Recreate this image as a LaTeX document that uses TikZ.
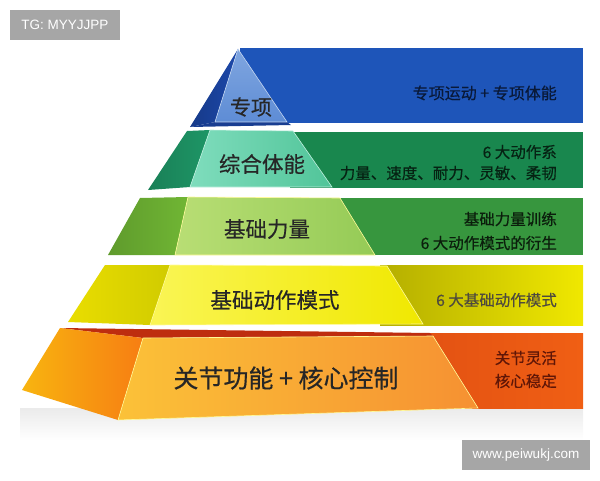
\documentclass[tikz,border=0pt]{standalone}
\usepackage{fontspec}
\setmainfont{Liberation Sans}
\newfontfamily\cjk[FakeBold=0.4]{Noto Sans CJK SC}

\definecolor{onebar}{RGB}{30,85,185}
\definecolor{onefront}{RGB}{105,150,218}
\definecolor{oneside}{RGB}{28,72,170}
\definecolor{twobar}{RGB}{25,135,78}
\definecolor{twofront}{RGB}{95,212,172}
\definecolor{twoside}{RGB}{30,150,102}
\definecolor{threebar}{RGB}{55,150,62}
\definecolor{threefront}{RGB}{172,216,92}
\definecolor{threeside}{RGB}{112,182,52}
\definecolor{fourbar}{RGB}{240,232,0}
\definecolor{fourfront}{RGB}{250,245,85}
\definecolor{fourside}{RGB}{232,226,0}
\definecolor{fivebar}{RGB}{240,95,20}
\definecolor{fivefront}{RGB}{250,178,70}
\definecolor{fiveside}{RGB}{245,148,22}
\definecolor{fivetop}{RGB}{190,45,15}

\begin{document}
\begin{tikzpicture}[x=1pt, y=-1pt,
  tag/.style={fill=black!35, draw=none},
  tagtext/.style={text=white, font=\fontsize{13.5}{13.5}\selectfont, inner sep=0pt},
  level/.style={font=\cjk\fontsize{21.5}{21.5}\selectfont, text=black!85, inner sep=0pt},
  note/.style={font=\cjk\fontsize{15.5}{15.5}\selectfont, anchor=east, inner sep=0pt},
  rim/.style={white!60!yellow, line width=0.6pt}]

\useasboundingbox (0,0) rectangle (600,480);

% watermark
\fill[tag] (10,10) rectangle (120,40);
\node[tagtext] (tg) at (65,25) {TG: MYYJJPP};

% shadow under the base
\shade[top color=black!8, bottom color=white] (20,408) -- (583,408) -- (583,440) -- (20,440) -- cycle;

% level 1
\fill[onebar] (240,48) rectangle (583,123);
\shade[left color=oneside!80!black, right color=oneside] (238,49) -- (215,122) -- (190,127) -- cycle;
\shade[top color=onefront!85!white, bottom color=onefront!85!onebar] (238,49) -- (287,122) -- (215,122) -- cycle;
\fill[oneside!85!black] (190,127) -- (215,122) -- (287,122) -- (291,125) -- cycle;
\draw[white!60!onefront, line width=0.6pt] (238,49) -- (215,122) -- (287,122) -- cycle;
\node[level, font=\cjk\fontsize{21}{21}\selectfont] (lone) at (251,107) {专项};
\node[note, font=\cjk\fontsize{16}{16}\selectfont, text=onebar!30!black] (lonenote) at (557,93) {专项运动 + 专项体能};

% level 2
\fill[twobar] (290,132) rectangle (583,188);
\shade[left color=twoside!85!black, right color=twoside] (187,131) -- (210,130) -- (190,187) -- (148,190) -- cycle;
\shade[left color=twofront!80!white, right color=twofront!80!twobar] (210,130) -- (293,131) -- (332,187) -- (190,187) -- cycle;
\draw[white!60!twofront, line width=0.6pt] (210,130) -- (293,131) -- (332,187) -- (190,187) -- cycle;
\node[level] (ltwo) at (262,164) {综合体能};
\node[note, text=twobar!25!black] (ltwoa) at (557,152) {6 大动作系};
\node[note, text=twobar!25!black] (ltwob) at (557,173) {力量、速度、耐力、灵敏、柔韧};

% level 3
\fill[threebar] (335,198) rectangle (583,255);
\shade[left color=threeside!85!black, right color=threeside] (140,198) -- (188,197) -- (175,255) -- (108,255) -- cycle;
\shade[left color=threefront!85!white, right color=threefront!80!threebar] (188,197) -- (340,198) -- (375,255) -- (175,255) -- cycle;
\draw[rim] (188,197) -- (340,198) -- (375,255) -- (175,255) -- cycle;
\node[level] (lthree) at (267,229) {基础力量};
\node[note, text=threebar!20!black] (lthreea) at (557,219) {基础力量训练};
\node[note, text=threebar!20!black] (lthreeb) at (557,243) {6 大动作模式的衍生};

% level 4
\shade[left color=fourbar!75!black, middle color=fourbar, right color=fourbar] (380,265) rectangle (583,325);
\shade[left color=fourside!95!orange, right color=fourside!90!black] (105,265) -- (170,265) -- (150,325) -- (68,322) -- cycle;
\shade[left color=fourfront, right color=fourbar] (170,265) -- (387,266) -- (423,324) -- (150,325) -- cycle;
\draw[rim] (170,265) -- (387,266) -- (423,324) -- (150,325) -- cycle;
\node[level] (lfour) at (275,300) {基础动作模式};
\node[note, text=black!80!yellow] (lfournote) at (557,300) {6 大基础动作模式};

% level 5
\shade[left color=fivebar!75!fivetop, right color=fivebar] (430,333) rectangle (583,408);
\fill[fivetop] (60,328) -- (430,333) -- (433,336) -- (143,338) -- cycle;
\shade[left color=fiveside!70!yellow, right color=fiveside!85!red] (60,328) -- (143,338) -- (118,420) -- (22,390) -- cycle;
\shade[left color=fivefront!80!yellow, right color=fivefront!60!fivebar] (143,338) -- (433,336) -- (478,408) -- (118,420) -- cycle;
\draw[rim] (143,338) -- (433,336) -- (478,408) -- (118,420) -- cycle;
\node[level, font=\cjk\fontsize{25}{25}\selectfont] (lfive) at (286,378) {关节功能 + 核心控制};
\node[note, text=fivetop!50!black] (lfivea) at (557,358) {关节灵活};
\node[note, text=fivetop!50!black] (lfiveb) at (557,381) {核心稳定};

% watermark
\fill[tag] (462,440) rectangle (590,470);
\node[tagtext] (site) at (526,455) {www.peiwukj.com};
\end{tikzpicture}
\end{document}
